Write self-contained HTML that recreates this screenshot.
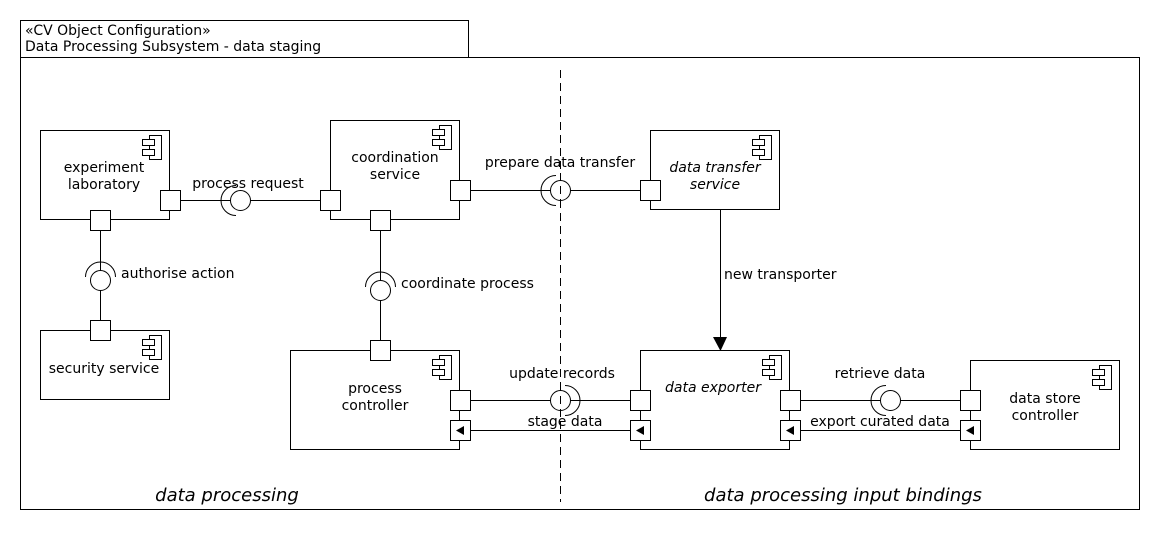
<!DOCTYPE html>
<html><head><meta charset="utf-8"><style>
html,body{margin:0;padding:0;background:#fff;}
svg{display:block;font-family:"DejaVu Sans","Liberation Sans",sans-serif;}
text{font-size:14px;fill:#000;}
</style></head><body>
<svg width="1160" height="540" viewBox="0 0 1160 540" xmlns="http://www.w3.org/2000/svg">
<defs>
<g id="ic">
<rect x="-16" y="5" width="12" height="24" fill="#fff" stroke="#000"/>
<rect x="-23" y="9" width="12" height="6" fill="#fff" stroke="#000"/>
<rect x="-23" y="19" width="12" height="6" fill="#fff" stroke="#000"/>
</g>
</defs>
<g fill="none" stroke="#000" stroke-width="1" shape-rendering="crispEdges">
<rect x="20.5" y="20.5" width="448" height="37"/>
<rect x="20.5" y="57.5" width="1119" height="452"/>
</g>
<text x="25" y="35">«CV Object Configuration»</text>
<text x="25" y="51">Data Processing Subsystem - data staging</text>

<line x1="560.5" y1="70" x2="560.5" y2="502" stroke="#000" stroke-dasharray="8,5"/>

<g fill="#fff" stroke="#000" stroke-width="1">
<line x1="180" y1="200.5" x2="320" y2="200.5"/>
<line x1="100.5" y1="230" x2="100.5" y2="320"/>
<line x1="380.5" y1="230" x2="380.5" y2="340"/>
<line x1="470" y1="190.5" x2="640" y2="190.5"/>
<line x1="470" y1="400.5" x2="630" y2="400.5"/>
<line x1="470" y1="430.5" x2="630" y2="430.5"/>
<line x1="800" y1="400.5" x2="960" y2="400.5"/>
<line x1="800" y1="430.5" x2="960" y2="430.5"/>
<line x1="720.5" y1="210" x2="720.5" y2="340"/>

<rect x="40.5" y="130.5" width="129" height="89"/>
<rect x="330.5" y="120.5" width="129" height="99"/>
<rect x="40.5" y="330.5" width="129" height="69"/>
<rect x="290.5" y="350.5" width="169" height="99"/>
<rect x="650.5" y="130.5" width="129" height="79"/>
<rect x="640.5" y="350.5" width="149" height="99"/>
<rect x="970.5" y="360.5" width="149" height="89"/>

<rect x="160.5" y="190.5" width="20" height="20"/>
<rect x="90.5" y="210.5" width="20" height="20"/>
<rect x="320.5" y="190.5" width="20" height="20"/>
<rect x="450.5" y="180.5" width="20" height="20"/>
<rect x="370.5" y="210.5" width="20" height="20"/>
<rect x="90.5" y="320.5" width="20" height="20"/>
<rect x="370.5" y="340.5" width="20" height="20"/>
<rect x="450.5" y="390.5" width="20" height="20"/>
<rect x="450.5" y="420.5" width="20" height="20"/>
<rect x="640.5" y="180.5" width="20" height="20"/>
<rect x="630.5" y="390.5" width="20" height="20"/>
<rect x="630.5" y="420.5" width="20" height="20"/>
<rect x="780.5" y="390.5" width="20" height="20"/>
<rect x="780.5" y="420.5" width="20" height="20"/>
<rect x="960.5" y="390.5" width="20" height="20"/>
<rect x="960.5" y="420.5" width="20" height="20"/>
</g>
<g fill="#000">
<polygon points="456,430.5 464,426 464,435"/>
<polygon points="636,430.5 644,426 644,435"/>
<polygon points="786,430.5 794,426 794,435"/>
<polygon points="966,430.5 974,426 974,435"/>
<polygon points="713,337 727,337 720.5,351"/>
</g>
<g transform="translate(165.5,130.5)"><use href="#ic"/></g>
<g transform="translate(455.5,120.5)"><use href="#ic"/></g>
<g transform="translate(165.5,330.5)"><use href="#ic"/></g>
<g transform="translate(455.5,350.5)"><use href="#ic"/></g>
<g transform="translate(775.5,130.5)"><use href="#ic"/></g>
<g transform="translate(785.5,350.5)"><use href="#ic"/></g>
<g transform="translate(1115.5,360.5)"><use href="#ic"/></g>

<g fill="#fff" stroke="#000">
<circle cx="240.5" cy="200.5" r="10"/>
<path d="M236,185.5 A15,15 0 0 0 236,215.5" fill="none"/>
<circle cx="100.5" cy="280.5" r="10"/>
<path d="M85.5,277 A15,15 0 0 1 115.5,277" fill="none"/>
<circle cx="380.5" cy="290.5" r="10"/>
<path d="M365.5,287 A15,15 0 0 1 395.5,287" fill="none"/>
<circle cx="560.5" cy="190.5" r="10"/>
<path d="M556,175.5 A15,15 0 0 0 556,205.5" fill="none"/>
<circle cx="560.5" cy="400.5" r="10"/>
<path d="M565,385.5 A15,15 0 0 1 565,415.5" fill="none"/>
<circle cx="890.5" cy="400.5" r="10"/>
<path d="M886,385.5 A15,15 0 0 0 886,415.5" fill="none"/>
</g>
<line x1="560.5" y1="383" x2="560.5" y2="418" stroke="#000" stroke-dasharray="8,5"/>
<line x1="560.5" y1="173" x2="560.5" y2="208" stroke="#000" stroke-dasharray="8,5"/>

<g text-anchor="middle">
<text x="104" y="172">experiment</text>
<text x="104" y="189">laboratory</text>
<text x="395" y="162">coordination</text>
<text x="395" y="179">service</text>
<text x="104" y="373">security service</text>
<text x="375" y="393">process</text>
<text x="375" y="410">controller</text>
<text x="715" y="172" font-style="italic">data transfer</text>
<text x="715" y="189" font-style="italic">service</text>
<text x="713" y="392" font-style="italic">data exporter</text>
<text x="1045" y="403">data store</text>
<text x="1045" y="420">controller</text>
<text x="248" y="188">process request</text>
<text x="560" y="167">prepare data transfer</text>
<text x="562" y="378">update records</text>
<text x="565" y="426">stage data</text>
<text x="880" y="378">retrieve data</text>
<text x="880" y="426">export curated data</text>
<text x="227" y="501" font-style="italic" style="font-size:18px">data processing</text>
<text x="843" y="501" font-style="italic" style="font-size:18px">data processing input bindings</text>
</g>
<text x="121" y="278">authorise action</text>
<text x="401" y="288">coordinate process</text>
<text x="724" y="279">new transporter</text>
</svg>
</body></html>
